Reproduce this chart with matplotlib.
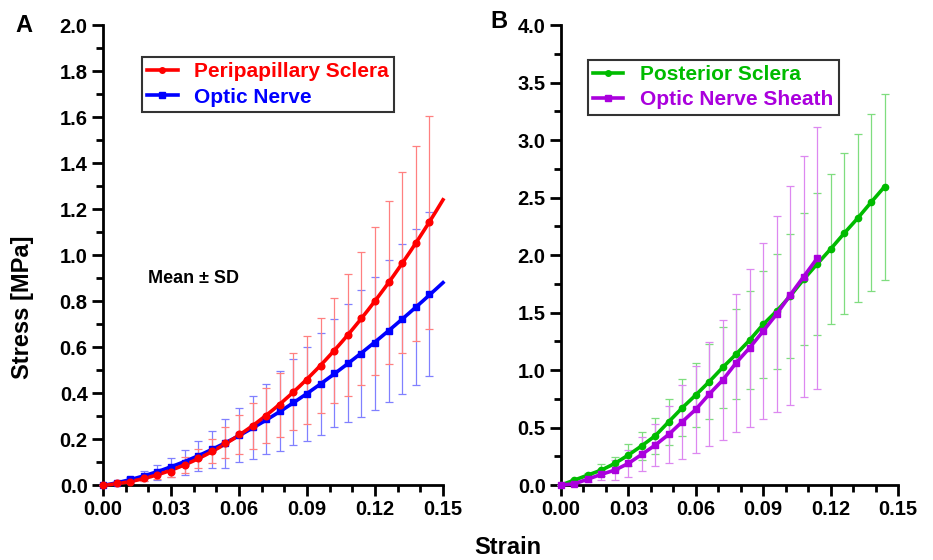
import matplotlib
matplotlib.use("Agg")
import matplotlib.pyplot as plt
import numpy as np
from matplotlib.ticker import MultipleLocator, FormatStrFormatter

plt.rcParams['font.family'] = ['Liberation Sans', 'DejaVu Sans']
plt.rcParams['font.weight'] = 'bold'

# strain steps (same for all series)
strain = np.round(np.arange(0, 0.1441, 0.006), 3)

# panel A
pps_mean = [0.0, 0.007, 0.014, 0.029, 0.043, 0.058, 0.087, 0.116, 0.149, 0.184,
            0.220, 0.257, 0.301, 0.349, 0.406, 0.457, 0.519, 0.584, 0.652, 0.725,
            0.801, 0.881, 0.967, 1.051, 1.142]
pps_sd = [0.0, 0.003, 0.005, 0.010, 0.015, 0.025, 0.033, 0.040, 0.053, 0.068,
          0.083, 0.100, 0.120, 0.140, 0.166, 0.190, 0.207, 0.228, 0.265, 0.290,
          0.322, 0.355, 0.393, 0.424, 0.464]
on_mean = [0.0, 0.010, 0.025, 0.040, 0.055, 0.077, 0.097, 0.128, 0.155, 0.181,
           0.217, 0.251, 0.286, 0.322, 0.360, 0.396, 0.438, 0.486, 0.529, 0.570,
           0.616, 0.670, 0.720, 0.775, 0.829]
on_sd = [0.0, 0.005, 0.012, 0.021, 0.032, 0.042, 0.055, 0.065, 0.081, 0.105,
         0.119, 0.136, 0.152, 0.172, 0.188, 0.204, 0.221, 0.234, 0.256, 0.276,
         0.290, 0.310, 0.326, 0.340, 0.356]

# panel B
ps_mean = [0.0, 0.043, 0.087, 0.130, 0.188, 0.261, 0.342, 0.429, 0.551, 0.672,
           0.783, 0.899, 1.023, 1.139, 1.261, 1.397, 1.513, 1.643, 1.788, 1.922,
           2.052, 2.188, 2.319, 2.458, 2.594]
ps_sd = [0.0, 0.010, 0.020, 0.053, 0.058, 0.093, 0.122, 0.157, 0.200, 0.247,
         0.280, 0.324, 0.355, 0.390, 0.430, 0.464, 0.500, 0.537, 0.574, 0.614,
         0.652, 0.698, 0.730, 0.768, 0.810]
ons_mean = [0.0, 0.010, 0.052, 0.093, 0.130, 0.188, 0.267, 0.348, 0.441, 0.551,
            0.658, 0.791, 0.913, 1.064, 1.194, 1.339, 1.487, 1.652, 1.812, 1.971]
ons_sd = [0.0, 0.010, 0.030, 0.050, 0.087, 0.116, 0.148, 0.182, 0.246, 0.322,
          0.380, 0.455, 0.519, 0.600, 0.687, 0.768, 0.850, 0.952, 1.045, 1.140]

fig = plt.figure(figsize=(9.33, 5.6), dpi=100)
axA = fig.add_axes([0.1104, 0.1339, 0.3644, 0.8214])
axB = fig.add_axes([0.6013, 0.1339, 0.3612, 0.8214])


def draw(ax, x, mean, sd, color, ecolor, marker, ms, smooth=False):
    x = np.asarray(x)
    ax.errorbar(x, mean, yerr=sd, fmt='none', ecolor=ecolor, elinewidth=0.9,
                capsize=3, capthick=0.9, zorder=2, clip_on=False)
    if smooth:
        p = np.polyfit(x, mean, 3)
        xs = np.linspace(0, 0.15, 200)
        ax.plot(xs, np.polyval(p, xs), color=color, lw=2.6, zorder=3, clip_on=False)
        ax.plot(x, mean, linestyle='none', marker=marker, ms=ms, color=color,
                zorder=4, clip_on=False)
    else:
        ax.plot(x, mean, color=color, lw=2.6, marker=marker, ms=ms,
                zorder=3, clip_on=False)


draw(axA, strain, on_mean, on_sd, '#0000ff', '#8080ff', 's', 4.2, smooth=True)
draw(axA, strain, pps_mean, pps_sd, '#ff0000', '#ff8080', 'o', 4.8, smooth=True)
draw(axB, strain, ps_mean, ps_sd, '#00bb00', '#7fdd7f', 'o', 4.5)
draw(axB, strain[:len(ons_mean)], ons_mean, ons_sd, '#aa00dd', '#dd88f0', 's', 4.2)

for ax, ymax, ymaj in [(axA, 2.0, 0.2), (axB, 4.0, 0.5)]:
    ax.set_xlim(0, 0.15)
    ax.set_ylim(0, ymax)
    ax.xaxis.set_major_locator(MultipleLocator(0.03))
    ax.xaxis.set_minor_locator(MultipleLocator(0.01))
    ax.yaxis.set_major_locator(MultipleLocator(ymaj))
    ax.yaxis.set_minor_locator(MultipleLocator(ymaj / 2))
    ax.xaxis.set_major_formatter(FormatStrFormatter('%.2f'))
    ax.yaxis.set_major_formatter(FormatStrFormatter('%.1f'))
    for s in ['top', 'right']:
        ax.spines[s].set_visible(False)
    for s in ['left', 'bottom']:
        ax.spines[s].set_linewidth(2)
    ax.tick_params(which='major', length=8, width=2, labelsize=14.5, pad=3)
    ax.tick_params(which='minor', length=5, width=2)
    for lab in ax.get_xticklabels() + ax.get_yticklabels():
        lab.set_fontweight('bold')

hA = [plt.Line2D([], [], color='#ff0000', lw=2.6, marker='o', ms=4),
      plt.Line2D([], [], color='#0000ff', lw=2.6, marker='s', ms=4)]
legA = axA.legend(hA, ['Peripapillary Sclera', 'Optic Nerve'], loc='upper left',
                  bbox_to_anchor=(0.115, 0.93), borderaxespad=0, fancybox=False,
                  edgecolor='black', handlelength=1.45, borderpad=0.25,
                  labelspacing=0.3, prop={'weight': 'bold', 'size': 15})
for t, c in zip(legA.get_texts(), ['#ff0000', '#0000ff']):
    t.set_color(c)
legA.get_frame().set_linewidth(1.5)

hB = [plt.Line2D([], [], color='#00bb00', lw=2.6, marker='o', ms=4),
      plt.Line2D([], [], color='#aa00dd', lw=2.6, marker='s', ms=4)]
legB = axB.legend(hB, ['Posterior Sclera', 'Optic Nerve Sheath'], loc='upper left',
                  bbox_to_anchor=(0.08, 0.924), borderaxespad=0, fancybox=False,
                  edgecolor='black', handlelength=1.45, borderpad=0.25,
                  labelspacing=0.3, prop={'weight': 'bold', 'size': 15})
for t, c in zip(legB.get_texts(), ['#00bb00', '#aa00dd']):
    t.set_color(c)
legB.get_frame().set_linewidth(1.5)

axA.text(0.132, 0.448, 'Mean ± SD', transform=axA.transAxes, fontsize=13,
         fontweight='bold', va='center', ha='left')

fig.text(22 / 933, 253 / 560, 'Stress [MPa]', fontsize=17, fontweight='bold',
         rotation=90, ha='center', va='center')
fig.text(24 / 933, 1 - 25 / 560, 'A', fontsize=17, fontweight='bold', ha='center', va='center')
fig.text(499 / 933, 1 - 21 / 560, 'B', fontsize=17, fontweight='bold', ha='center', va='center')
fig.text(508 / 933, 1 - 547 / 560, 'Strain', fontsize=17, fontweight='bold', ha='center', va='center')

fig.savefig('out.png', dpi=100)
